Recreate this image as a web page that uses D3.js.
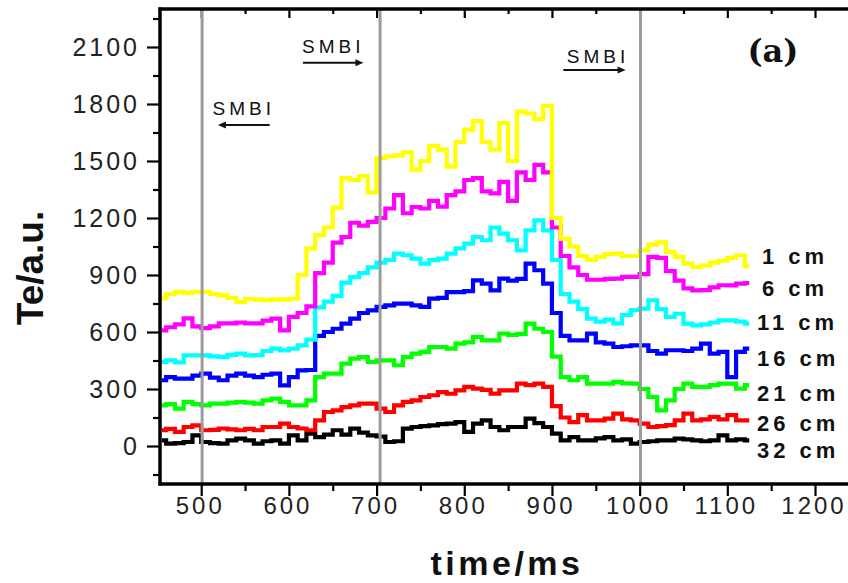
<!DOCTYPE html>
<html>
<head>
<meta charset="utf-8">
<script src="https://cdn.jsdelivr.net/npm/d3@7"></script>
<style>
  html, body { margin: 0; padding: 0; background: #fff; }
  svg { display: block; }
</style>
</head>
<body>
<svg id="chart" width="848" height="583"></svg>
<script>
// Sample times (ms) shared by all channels
const times = [455,465,475,485,495,505,515,525,535,545,555,565,575,585,595,605,615,625,635,645,
  655,665,675,685,695,705,715,725,735,745,755,765,775,785,795,805,815,825,835,845,
  855,865,875,885,895,905,915,925,935,945,955,965,975,985,995,1005,1015,1025,1035,1045,
  1055,1065,1075,1085,1095,1105,1115,1125];

// Electron temperature (a.u.) at each radial position
const te1cm = [777,800,811,805,811,811,800,793,780,758,775,770,768,772,770,775,900,1040,1110,1150,
  1255,1410,1400,1420,1335,1515,1525,1530,1545,1455,1500,1580,1560,1470,1600,1665,1710,1600,1560,1700,
  1500,1760,1750,1720,1790,1200,1090,1050,1000,980,995,1010,1013,1000,1000,1030,1060,1072,1020,995,
  960,942,950,965,975,990,1004,945];
const te6cm = [609,625,640,672,630,620,630,645,645,650,645,645,660,670,609,680,700,735,910,965,
  1070,1100,1175,1160,1180,1200,1250,1320,1225,1258,1250,1290,1260,1320,1340,1400,1410,1340,1330,1390,
  1290,1440,1400,1480,1440,1150,1000,940,900,875,875,880,881,890,890,905,995,990,920,870,
  830,819,820,835,846,845,855,858];
const te11cm = [442,451,440,477,477,477,472,468,480,486,477,478,500,513,503,513,530,560,730,760,
  790,860,889,910,940,965,980,1013,1004,986,960,978,986,1013,1040,1065,1100,1083,1150,1118,
  1083,1030,1135,1188,1135,980,800,760,720,670,655,665,645,690,715,723,767,720,679,696,
  644,635,640,650,661,661,655,644];
const te16cm = [346,363,355,355,370,381,360,346,370,381,370,363,375,381,319,363,398,400,580,600,
  617,644,670,700,714,732,740,749,749,740,732,776,780,810,810,815,872,855,819,881,
  870,880,960,925,855,700,580,556,556,591,545,539,521,525,530,530,500,486,504,504,
  500,512,539,486,495,363,495,512];
const te21cm = [214,220,197,232,220,214,223,223,228,232,228,223,240,249,232,214,214,240,363,381,
  381,434,460,468,442,451,451,425,468,486,495,521,521,513,539,545,574,556,556,592,
  585,590,644,617,600,470,363,346,363,328,328,328,337,330,328,300,258,188,240,300,
  328,311,311,320,328,328,302,320];
const te26cm = [83,90,74,100,109,83,85,92,88,83,90,83,100,100,118,100,92,83,135,179,
  188,205,214,223,223,197,179,214,232,240,258,267,284,275,293,311,302,295,276,293,
  293,328,320,328,311,210,150,126,162,135,135,144,170,140,135,118,100,105,110,135,
  170,135,140,153,140,162,135,135];
const te32cm = [30,12,15,21,56,21,15,12,30,39,30,12,25,30,12,56,30,65,47,60,
  83,60,91,70,56,50,21,25,91,100,105,109,115,118,126,74,118,135,100,83,
  100,100,144,120,100,65,30,47,30,30,40,47,30,35,12,21,25,30,30,39,
  35,30,25,30,56,30,35,30];

const seriesValues = [te1cm, te6cm, te11cm, te16cm, te21cm, te26cm, te32cm];
const seriesLabels = ["1 cm", "6 cm", "11 cm", "16 cm", "21 cm", "26 cm", "32 cm"];
const seriesColors = ["#ffff00", "#ff00ff", "#00ffff", "#0000ff", "#00ff00", "#ff0000", "#000000"];
// level (a.u.) at which each channel's name is written, right of the traces
const labelLevels = [998, 830, 651, 462, 279, 121, -19];

// Axis ticks
const yTicks = [0, 300, 600, 900, 1200, 1500, 1800, 2100];
const yMinorTicks = [-150, 150, 450, 750, 1050, 1350, 1650, 1950, 2250];
const xTicks = [500, 600, 700, 800, 900, 1000, 1100, 1200];
const xMinorTicks = [550, 650, 750, 850, 950, 1050, 1150];

// Gas-puff (SMBI) instants and their notes
const smbiTimes = [501, 704, 1001];
const smbiNotes = [
  { text: "SMBI", t: 513, v: 1742, arrowV: 1689, from: 578, to: 519 },
  { text: "SMBI", t: 615, v: 2068, arrowV: 2017, from: 616, to: 685 },
  { text: "SMBI", t: 917, v: 2017, arrowV: 1979, from: 913, to: 984 }
];

const svg = d3.select("#chart");
const W = 848;
const plotLeft = 160, plotTop = 9, plotBottom = 484;

const x = d3.scaleLinear().domain([453, 1200]).range([plotLeft, 815]);
const y = d3.scaleLinear().domain([-200, 2300]).range([plotBottom, plotTop]);

const tickFont = "'Liberation Sans', Arial, sans-serif";

// ---- axes ----
function styleTicks(g, width) {
  g.select(".domain").remove();
  g.selectAll(".tick line").attr("stroke", "#000").attr("stroke-width", width);
}

// left
svg.append("g").attr("transform", `translate(${plotLeft},0)`)
  .call(d3.axisLeft(y).tickValues(yTicks).tickSize(13).tickPadding(7).tickFormat(d3.format("d")))
  .call(g => styleTicks(g, 2.2))
  .call(g => g.selectAll("text")
      .attr("font-family", tickFont).attr("font-size", 25)
      .attr("letter-spacing", 3).attr("fill", "#222"));
svg.append("g").attr("transform", `translate(${plotLeft},0)`)
  .call(d3.axisLeft(y).tickValues(yMinorTicks).tickSize(7).tickFormat(""))
  .call(g => styleTicks(g, 2.2));

// bottom
svg.append("g").attr("transform", `translate(0,${plotBottom})`)
  .call(d3.axisBottom(x).tickValues(xTicks).tickSize(12).tickPadding(1).tickFormat(d3.format("d")))
  .call(g => styleTicks(g, 2.2))
  .call(g => g.selectAll("text")
      .attr("font-family", tickFont).attr("font-size", 24)
      .attr("letter-spacing", 3).attr("dx", -1.5).attr("fill", "#222"));
svg.append("g").attr("transform", `translate(0,${plotBottom})`)
  .call(d3.axisBottom(x).tickValues(xMinorTicks).tickSize(7).tickFormat(""))
  .call(g => styleTicks(g, 2.2));

// top (inward ticks, no labels)
svg.append("g").attr("transform", `translate(0,${plotTop})`)
  .call(d3.axisBottom(x).tickValues(xTicks).tickSize(9).tickFormat(""))
  .call(g => styleTicks(g, 2.2));
svg.append("g").attr("transform", `translate(0,${plotTop})`)
  .call(d3.axisBottom(x).tickValues(xMinorTicks).tickSize(5).tickFormat(""))
  .call(g => styleTicks(g, 2.2));

// ---- traces ----
const line = d3.line()
  .x((d, i) => x(times[i]))
  .y(d => y(d))
  .curve(d3.curveStep);

const traces = svg.append("g").attr("fill", "none")
  .attr("stroke-width", 4.2).attr("stroke-linejoin", "miter");
for (let k = seriesValues.length - 1; k >= 0; k--) {
  traces.append("path")
    .attr("d", line(seriesValues[k]))
    .attr("stroke", seriesColors[k]);
}

// ---- SMBI markers ----
svg.append("g").selectAll("line").data(smbiTimes).join("line")
  .attr("x1", d => x(d)).attr("x2", d => x(d))
  .attr("y1", plotTop).attr("y2", plotBottom)
  .attr("stroke", "#9c9c9c").attr("stroke-width", 3);

const notes = svg.append("g");
smbiNotes.forEach(n => {
  notes.append("text")
    .attr("x", x(n.t)).attr("y", y(n.v))
    .attr("font-family", tickFont).attr("font-size", 19)
    .attr("letter-spacing", 4).attr("fill", "#111")
    .text(n.text);
  const ay = y(n.arrowV), x0 = x(n.from), x1 = x(n.to);
  const dir = Math.sign(x1 - x0);
  notes.append("line")
    .attr("x1", x0).attr("x2", x1 - dir * 4).attr("y1", ay).attr("y2", ay)
    .attr("stroke", "#111").attr("stroke-width", 2);
  notes.append("path")
    .attr("d", `M${x1},${ay} L${x1 - dir * 8},${ay - 3.5} L${x1 - dir * 8},${ay + 3.5} Z`)
    .attr("fill", "#111");
});

// ---- frame lines ----
const frame = svg.append("g").attr("stroke", "#000").attr("stroke-width", 3.5);
frame.append("line").attr("x1", plotLeft).attr("x2", plotLeft).attr("y1", plotTop - 1.5).attr("y2", plotBottom + 1.5);
frame.append("line").attr("x1", plotLeft - 1.5).attr("x2", W).attr("y1", plotTop).attr("y2", plotTop);
frame.append("line").attr("x1", plotLeft - 1.5).attr("x2", W).attr("y1", plotBottom).attr("y2", plotBottom);

// ---- channel labels ----
svg.append("g").selectAll("text").data(seriesLabels).join("text")
  .attr("x", d => d.length < 5 ? 762 : 757)
  .attr("y", (d, i) => y(labelLevels[i]))
  .attr("dy", "0.36em")
  .attr("font-family", tickFont).attr("font-weight", "bold")
  .attr("font-size", 22).attr("letter-spacing", 4).attr("fill", "#111")
  .text(d => d);

// ---- panel tag ----
svg.append("text")
  .attr("x", x(1152)).attr("y", y(2021))
  .attr("text-anchor", "middle")
  .attr("font-family", "'DejaVu Serif', serif").attr("font-weight", "bold")
  .attr("font-size", 32).attr("fill", "#111")
  .text("(a)");

// ---- axis titles ----
svg.append("text")
  .attr("transform", "translate(43,268) rotate(-90)")
  .attr("text-anchor", "middle")
  .attr("font-family", tickFont).attr("font-weight", "bold")
  .attr("font-size", 37).attr("fill", "#111")
  .text("Te/a.u.");

svg.append("text")
  .attr("x", 507).attr("y", 575)
  .attr("text-anchor", "middle")
  .attr("font-family", tickFont).attr("font-weight", "bold")
  .attr("font-size", 34).attr("letter-spacing", 3.5).attr("fill", "#111")
  .text("time/ms");
</script>
</body>
</html>
